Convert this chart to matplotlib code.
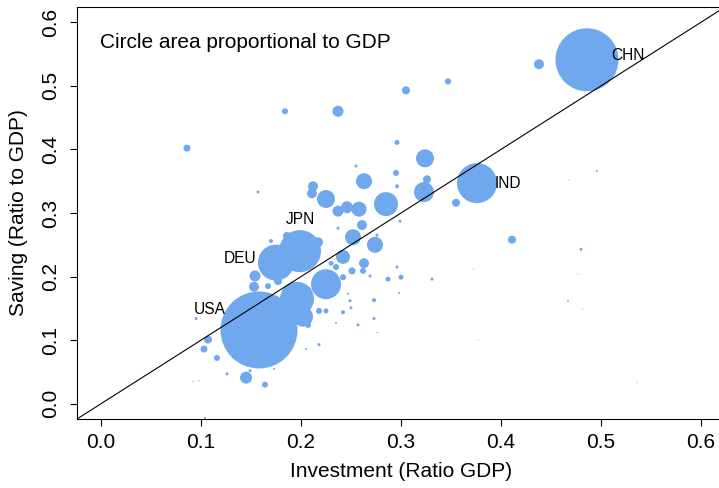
import numpy as np
import matplotlib
matplotlib.use("Agg")
from matplotlib import pyplot as plt

# investment and saving as ratio to GDP, GDP in trillions
investment = [0.486, 0.376, 0.158, 0.199, 0.175, 0.196, 0.202, 0.225, 0.285, 0.323,
              0.324, 0.263, 0.258, 0.246, 0.237, 0.225, 0.212, 0.211, 0.261, 0.326,
              0.295, 0.296, 0.296, 0.255, 0.299, 0.276, 0.237, 0.252, 0.274, 0.242,
              0.263, 0.262, 0.251, 0.242, 0.235, 0.230, 0.269, 0.287, 0.300, 0.296,
              0.331, 0.298, 0.273, 0.249, 0.247, 0.250, 0.242, 0.273, 0.257, 0.235,
              0.225, 0.218, 0.207, 0.218, 0.205, 0.217, 0.186, 0.170, 0.154, 0.153,
              0.167, 0.177, 0.095, 0.107, 0.103, 0.116, 0.145, 0.164, 0.126, 0.149,
              0.173, 0.092, 0.098, 0.104, 0.086, 0.157, 0.184, 0.237, 0.305, 0.347,
              0.438, 0.355, 0.411, 0.480, 0.496, 0.468, 0.372, 0.467, 0.536, 0.276,
              0.477, 0.482, 0.377, 0.190, 0.205]
saving = [0.541, 0.347, 0.116, 0.240, 0.222, 0.165, 0.137, 0.188, 0.314, 0.333,
          0.386, 0.350, 0.306, 0.309, 0.303, 0.322, 0.342, 0.331, 0.281, 0.353,
          0.363, 0.342, 0.411, 0.374, 0.287, 0.265, 0.276, 0.262, 0.250, 0.231,
          0.221, 0.209, 0.209, 0.199, 0.215, 0.221, 0.201, 0.196, 0.199, 0.215,
          0.196, 0.174, 0.163, 0.162, 0.173, 0.151, 0.144, 0.134, 0.124, 0.127,
          0.146, 0.146, 0.124, 0.093, 0.086, 0.254, 0.264, 0.256, 0.201, 0.184,
          0.185, 0.193, 0.134, 0.101, 0.086, 0.072, 0.041, 0.030, 0.047, 0.052,
          0.055, 0.035, 0.036, -0.022, 0.402, 0.333, 0.460, 0.460, 0.493, 0.507,
          0.534, 0.316, 0.258, 0.243, 0.366, 0.352, 0.212, 0.162, 0.033, 0.112,
          0.204, 0.149, 0.100, 0.182, 0.178]
gdp = [11.65, 4.70, 17.40, 5.18, 3.80, 3.39, 1.17, 2.64, 1.69, 1.17,
       0.95, 0.75, 0.66, 0.42, 0.355, 0.95, 0.29, 0.29, 0.29, 0.19,
       0.106, 0.047, 0.073, 0.026, 0.026, 0.026, 0.026, 0.75, 0.75, 0.575,
       0.29, 0.106, 0.144, 0.106, 0.106, 0.073, 0.026, 0.073, 0.073, 0.026,
       0.026, 0.012, 0.047, 0.026, 0.012, 0.026, 0.047, 0.026, 0.026, 0.012,
       0.073, 0.106, 0.106, 0.026, 0.012, 0.29, 0.19, 0.047, 0.355, 0.29,
       0.106, 0.19, 0.026, 0.19, 0.144, 0.106, 0.42, 0.106, 0.026, 0.026,
       0.012, 0.005, 0.005, 0.012, 0.144, 0.026, 0.106, 0.355, 0.19, 0.106,
       0.29, 0.19, 0.19, 0.026, 0.012, 0.003, 0.003, 0.012, 0.003, 0.005,
       0.003, 0.003, 0.003, 0.19, 0.29]

labels = ['USA', 'DEU', 'JPN', 'IND', 'CHN']
label_x = [0.109, 0.139, 0.199, 0.407, 0.527]
label_y = [0.149, 0.229, 0.289, 0.347, 0.548]

ticks = [0.0, 0.1, 0.2, 0.3, 0.4, 0.5, 0.6]

plt.rcParams['font.family'] = ['Liberation Sans', 'DejaVu Sans']
dpi = 100
fig = plt.figure(figsize=(7.19, 4.88), dpi=dpi)
# right side of the box falls just outside the picture, as in the original
ax = fig.add_axes([77 / 719, 69 / 488, 648 / 719, 412 / 488])

gdp = np.array(gdp)
radius_px = 38.5 * np.sqrt(gdp / 17.4)
sizes = (2 * radius_px * 72 / dpi) ** 2
ax.scatter(investment, saving, s=sizes, color='#6FA8EC', linewidths=0, zorder=2)

ax.axline((0, 0), slope=1, color='black', linewidth=0.8, zorder=3)

for lab, x, y in zip(labels, label_x, label_y):
    ax.text(x, y, lab, fontsize=11.2, ha='center', va='center', zorder=4)

ax.text(0.0355, 0.915, 'Circle area proportional to GDP', transform=ax.transAxes,
        fontsize=15, ha='left', va='center')

ax.set_xlim(-0.024, 0.624)
ax.set_ylim(-0.024, 0.624)
ax.set_xticks(ticks)
ax.set_yticks(ticks)
ax.set_xticklabels(['%.1f' % t for t in ticks])
ax.set_yticklabels(['%.1f' % t for t in ticks], rotation=90, va='center')
ax.tick_params(length=5, width=0.8, labelsize=15, direction='out')
ax.tick_params(axis='x', pad=5)
ax.tick_params(axis='y', pad=7)
for sp in ax.spines.values():
    sp.set_linewidth(0.8)

ax.set_xlabel('Investment (Ratio GDP)', fontsize=15)
ax.xaxis.label.set_va('center')
ax.xaxis.set_label_coords(0.5, -0.1286)
ax.set_ylabel('Saving (Ratio to GDP)', fontsize=15)
ax.yaxis.label.set_va('center')
ax.yaxis.set_label_coords(-0.091, 0.5)

fig.savefig('out.png', dpi=dpi)
